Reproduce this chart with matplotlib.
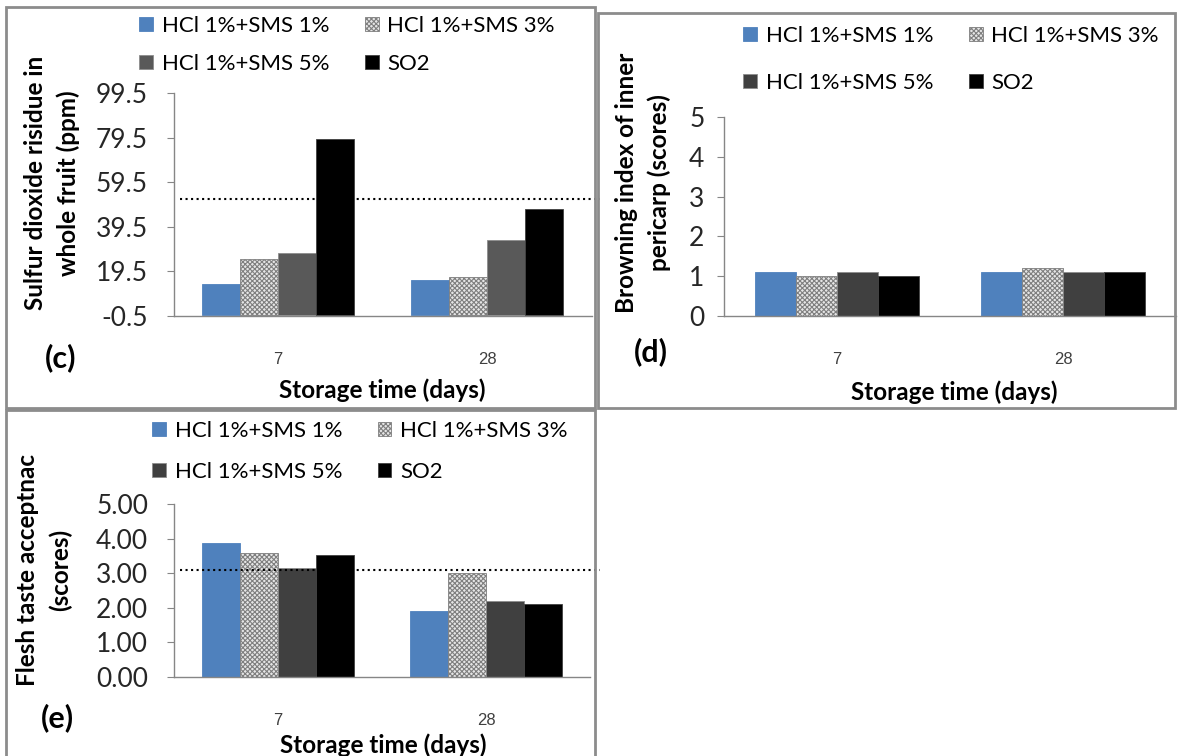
import numpy as np
import matplotlib
matplotlib.use('Agg')
import matplotlib.pyplot as plt
from matplotlib.patches import Rectangle

# Data
days = ['7', '28']
series_names = ['HCl 1%+SMS 1%', 'HCl 1%+SMS 3%', 'HCl 1%+SMS 5%', 'SO2']

# (c) sulfur dioxide residue in whole fruit (ppm)
so2_sms1 = [13.8, 15.6]
so2_sms3 = [25.1, 17.0]
so2_sms5 = [27.7, 33.6]
so2_so2 = [78.9, 47.5]
so2_limit = 52.0

# (d) browning index of inner pericarp (scores)
brown_sms1 = [1.1, 1.1]
brown_sms3 = [1.0, 1.2]
brown_sms5 = [1.1, 1.1]
brown_so2 = [1.0, 1.1]

# (e) flesh taste acceptance (scores)
taste_sms1 = [3.87, 1.91]
taste_sms3 = [3.58, 3.00]
taste_sms5 = [3.16, 2.20]
taste_so2 = [3.52, 2.10]
taste_limit = 3.1

W, H = 1179, 756
plt.rcParams['font.family'] = ['Lato', 'DejaVu Sans']
plt.rcParams['hatch.linewidth'] = 0.8

fig = plt.figure(figsize=(W / 100, H / 100), dpi=100)


def px_rect(x0, y0, x1, y1):
    return [x0 / W, 1 - y1 / H, (x1 - x0) / W, (y1 - y0) / H]


def fx(x):
    return x / W


def fy(y):
    return 1 - y / H


def draw_panel(box, values, gray, ylim, yticks, yfmt, ypad):
    ax = fig.add_axes(px_rect(*box))
    x = np.arange(len(days))
    w = 0.182
    styles = [
        dict(color='#4F81BD', edgecolor='#4F81BD'),
        dict(color='#E6E6E6', edgecolor='#7F7F7F', hatch='xxxxxxx'),
        dict(color=gray, edgecolor='#8C8C8C'),
        dict(color='#000000', edgecolor='#404040'),
    ]
    bars = []
    for i, (vals, st) in enumerate(zip(values, styles)):
        b = ax.bar(x + (i - 1.5) * w, vals, width=w, linewidth=0.6,
                   label=series_names[i], **st)
        bars.append(b)
    ax.set_xlim(-0.5, 1.5)
    ax.set_ylim(*ylim)
    ax.set_yticks(yticks)
    ax.set_yticklabels([yfmt % t for t in yticks])
    ax.set_xticks(x)
    ax.set_xticklabels(days, fontfamily='Liberation Sans', fontsize=12,
                       color='#404040')
    for s in ['top', 'right']:
        ax.spines[s].set_visible(False)
    for s in ['left', 'bottom']:
        ax.spines[s].set_color('#868686')
        ax.spines[s].set_linewidth(1.0)
    ax.tick_params(axis='y', length=5, color='#868686', labelsize=19,
                   pad=ypad, labelcolor='#262626')
    ax.tick_params(axis='x', length=0, pad=26)
    ax.set_facecolor('none')
    return ax, bars


def add_legend(bars, x, y, spacing):
    # row-wise order: (1%, 3%) on top, (5%, SO2) below
    order = [0, 2, 1, 3]
    fig.legend(handles=[bars[i] for i in order],
               labels=[series_names[i] for i in order], ncol=2,
               loc='upper left', bbox_to_anchor=(fx(x), fy(y)),
               frameon=False, fontsize=16, handlelength=0.62,
               handleheight=0.62, handletextpad=0.4, columnspacing=1.6,
               labelspacing=spacing, borderpad=0, borderaxespad=0)


def panel_box(x0, y0, x1, y1):
    fig.patches.append(Rectangle((fx(x0), fy(y1)), fx(x1) - fx(x0),
                                 fy(y0) - fy(y1), transform=fig.transFigure,
                                 fill=False, edgecolor='#8C8C8C',
                                 linewidth=2))


def ylabel(x, y, text):
    fig.text(fx(x), fy(y), text, rotation=90, ha='center', va='center',
             fontsize=17.5, fontweight='bold', linespacing=1.5)


def xlabel(x, y):
    fig.text(fx(x), fy(y), 'Storage time (days)', ha='center', va='center',
             fontsize=17.5, fontweight='bold')


def tag(x, y, text):
    fig.text(fx(x), fy(y), text, ha='center', va='center', fontsize=22,
             fontweight='bold')


# panel (c)
panel_box(6, 7, 595, 408)
ax_c, bars_c = draw_panel((173.5, 93, 591.5, 316),
                          [so2_sms1, so2_sms3, so2_sms5, so2_so2], '#595959',
                          (-0.5, 99.5), np.arange(-0.5, 100, 20), '%.1f', 13.5)
ax_c.axhline(so2_limit, xmin=0.016, xmax=1.02, color='black', linestyle=':',
             linewidth=1.5, clip_on=False)
add_legend(bars_c, 139, 16, 0.8)
ylabel(52, 183, 'Sulfur dioxide risidue in\nwhole fruit (ppm)')
tag(61, 358, '(c)')
xlabel(382, 390)

# panel (d)
panel_box(598, 13, 1175, 408)
ax_d, bars_d = draw_panel((724, 117, 1176, 316),
                          [brown_sms1, brown_sms3, brown_sms5, brown_so2],
                          '#404040', (0, 5), np.arange(0, 6, 1), '%d', 9)
add_legend(bars_d, 743, 26, 1.2)
ylabel(643, 183, 'Browning index of inner\npericarp (scores)')
tag(651, 352, '(d)')
xlabel(954, 392)

# panel (e)
panel_box(6, 410, 595, 760)
ax_e, bars_e = draw_panel((174, 504, 590, 677),
                          [taste_sms1, taste_sms3, taste_sms5, taste_so2],
                          '#404040', (0, 5), np.arange(0, 6, 1), '%.2f', 13.5)
ax_e.axhline(taste_limit, xmin=0.014, xmax=1.024, color='black',
             linestyle=':', linewidth=1.5, clip_on=False)
add_legend(bars_e, 152, 421, 0.95)
ylabel(44, 570, 'Flesh taste acceptnac\n(scores)')
tag(57, 718, '(e)')
xlabel(383, 745)

fig.savefig('out.png', dpi=100, facecolor='white')
